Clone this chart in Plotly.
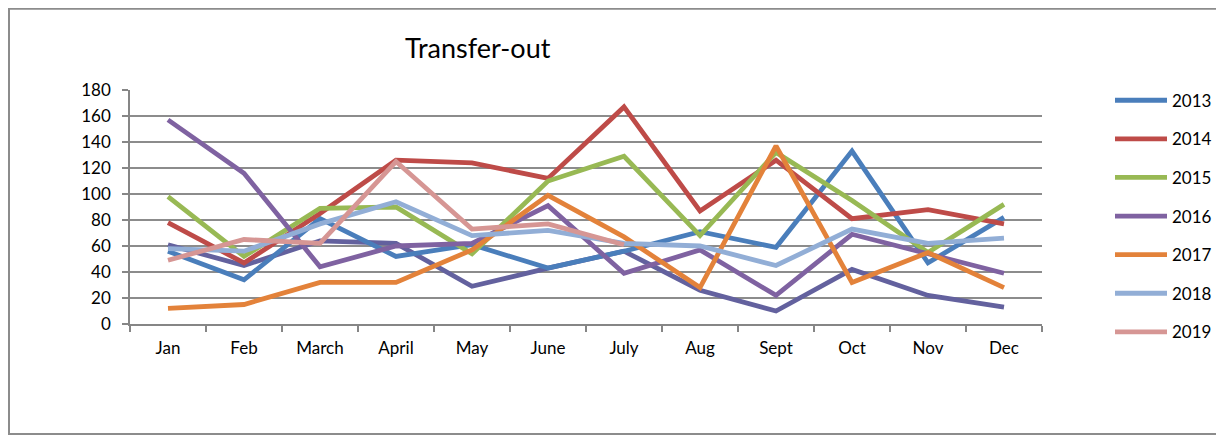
import plotly.graph_objects as go

months = ["Jan", "Feb", "March", "April", "May", "June", "July", "Aug", "Sept", "Oct", "Nov", "Dec"]

y2013 = [56, 34, 81, 52, 61, 43, 56, 71, 59, 133, 47, 82]
y2014 = [78, 47, 85, 126, 124, 112, 167, 87, 126, 81, 88, 77]
y2015 = [98, 52, 89, 90, 54, 110, 129, 68, 132, 95, 55, 92]
y2016 = [157, 116, 44, 60, 62, 91, 39, 57, 22, 69, 54, 39]
y2017 = [12, 15, 32, 32, 57, 99, 67, 28, 137, 32, 55, 28]
y2018 = [58, 56, 77, 94, 68, 72, 62, 60, 45, 73, 62, 66]
y2019 = [49, 65, 62, 125, 73, 77, 61, None, None, None, None, None]
y_unlabelled = [61, 45, 64, 62, 29, 43, 56, 26, 10, 42, 22, 13]

series = [
    ("2013", y2013, "#4A7EBB"),
    ("2014", y2014, "#BE4B48"),
    ("2015", y2015, "#98B954"),
    ("2016", y2016, "#7F62A1"),
    ("2017", y2017, "#E3823A"),
    ("2018", y2018, "#92AED6"),
    ("2019", y2019, "#D69694"),
]

FONT = "Lato, Liberation Sans, sans-serif"

# figure size chosen so the page (with its 8px body margin) does not scroll
FIG_W, FIG_H = 1216, 427
# plot area in figure pixels
L, R, T, B = 122, 1034, 82, 316
W, H = R - L, B - T


def px(x):
    return (x - L) / W


def py(y):
    return (B - y) / H


fig = go.Figure()

fig.add_trace(go.Scatter(
    x=months, y=y_unlabelled, mode="lines", name="Series 8",
    line=dict(color="#63619E", width=4.8), showlegend=False,
))

for name, vals, color in series:
    fig.add_trace(go.Scatter(
        x=months, y=vals, mode="lines", name=name, legendgroup=name,
        line=dict(color=color, width=4.8),
    ))

# outer frame like the Excel chart area
fig.add_shape(
    type="rect", xref="paper", yref="paper",
    x0=px(1), x1=px(1214), y0=py(FIG_H - 1), y1=py(0.8),
    line=dict(color="#8C8C8C", width=2),
)

fig.add_annotation(
    text="Transfer-out", xref="paper", yref="paper",
    x=px(470), y=py(39), xanchor="center", yanchor="middle",
    showarrow=False, font=dict(size=27, color="#000000", family=FONT),
)

fig.update_layout(
    width=FIG_W,
    height=FIG_H,
    margin=dict(l=L, r=FIG_W - R, t=T, b=FIG_H - B, autoexpand=False),
    paper_bgcolor="white",
    plot_bgcolor="white",
    font=dict(family=FONT, size=17, color="#000000"),
    legend=dict(
        x=px(1102), y=py(74.7),
        xanchor="left", yanchor="top",
        tracegroupgap=13.5,
        itemwidth=52,
        maxheight=400,
        font=dict(size=17),
        bgcolor="rgba(0,0,0,0)",
    ),
)

fig.update_xaxes(
    type="category", range=[-0.5, 11.5],
    showline=True, linecolor="#868686", linewidth=1.5,
    ticks="outside", tickson="boundaries", ticklen=6, tickcolor="#868686", tickwidth=1.5,
    ticklabelstandoff=8,
    showgrid=False,
    tickfont=dict(size=17),
)
fig.update_yaxes(
    range=[0, 180], dtick=20,
    showline=True, linecolor="#868686", linewidth=1.5,
    ticks="outside", ticklen=6, tickcolor="#868686", tickwidth=1.5,
    ticklabelstandoff=8,
    showgrid=True, gridcolor="#8C8C8C", gridwidth=1.5,
    zeroline=False,
    tickfont=dict(size=17),
)

fig.write_html("out.html")
